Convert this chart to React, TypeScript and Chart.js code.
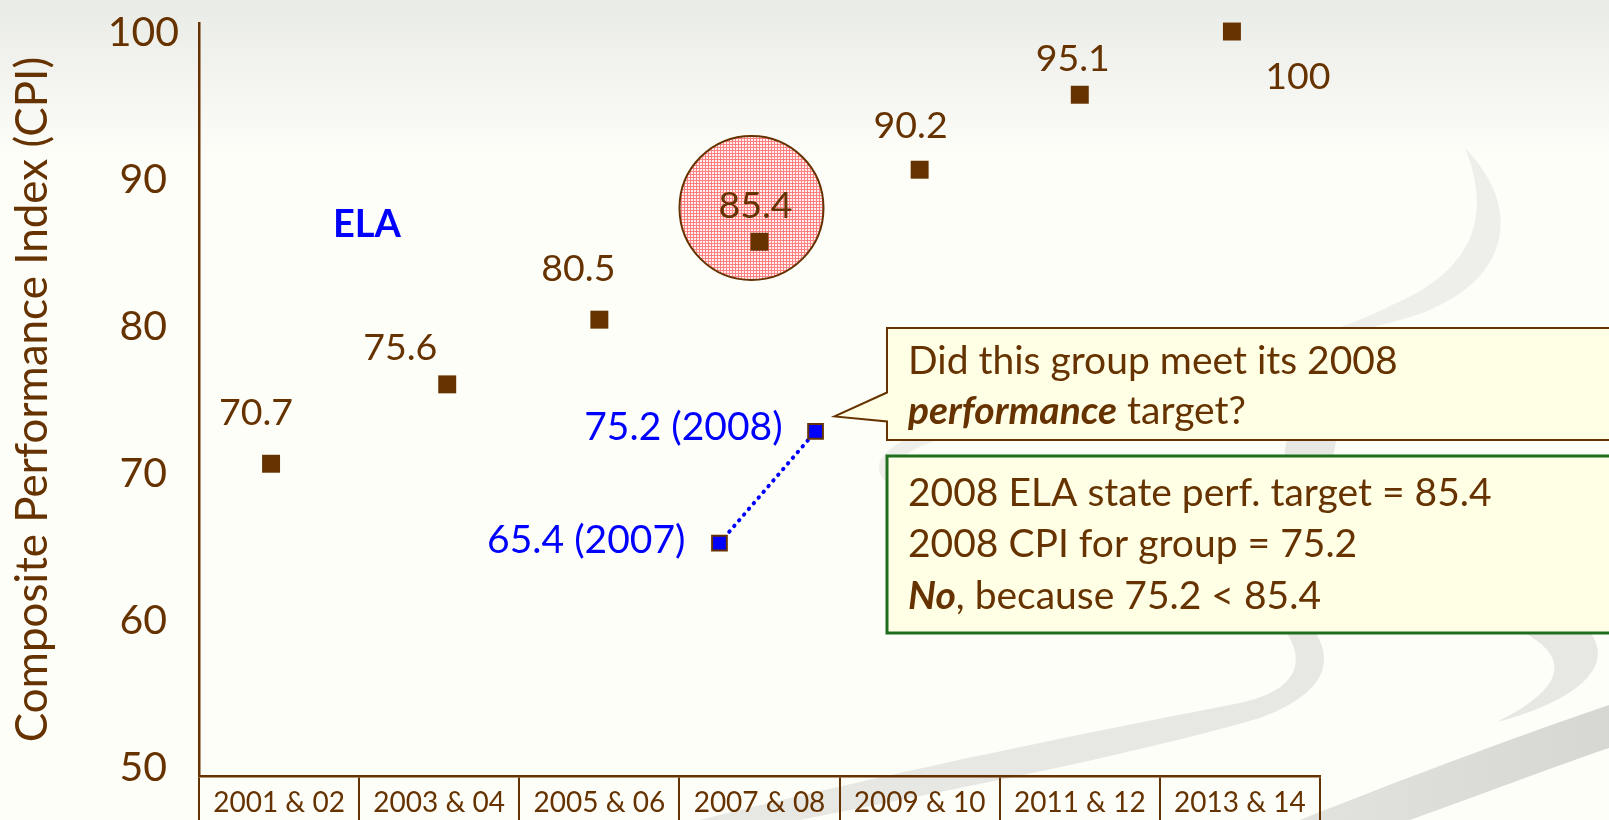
import React, { useEffect, useRef } from 'react';
import { Chart, registerables } from 'chart.js';

Chart.register(...registerables);

// ---------- data ----------
const categories = ['2001 & 02', '2003 & 04', '2005 & 06', '2007 & 08', '2009 & 10', '2011 & 12', '2013 & 14'];
const yTickValues = [50, 60, 70, 80, 90, 100];
// state performance targets (plotted positions)
const cpiX = [-0.05, 1.05, 2, 3, 4, 5, 5.95];
const cpiValues = [70.7, 76.1, 80.5, 85.8, 90.7, 95.8, 100.1];
const cpiLabels = ['70.7', '75.6', '80.5', '85.4', '90.2', '95.1', '100'];
// the group's CPI
const groupX = [2.75, 3.35];
const groupValues = [65.3, 72.9];
const groupLabels = ['65.4 (2007)', '75.2 (2008)'];
// highlighted 2008 target
const targetX = [2.95];
const targetValues = [88.1];

const subjectLabel = 'ELA';
const yTitle = 'Composite Performance Index (CPI)';

type Seg = { t: string; bi?: boolean };
const questionLines: Seg[][] = [
  [{ t: 'Did this group meet its 2008' }],
  [{ t: 'performance', bi: true }, { t: ' target?' }],
];
const answerLines: Seg[][] = [
  [{ t: '2008 ELA state perf. target = 85.4' }],
  [{ t: '2008 CPI for group = 75.2' }],
  [{ t: 'No', bi: true }, { t: ', because 75.2 < 85.4' }],
];

// ---------- styles ----------
const BROWN = '#663300';
const BLUE = '#0000ff';
const GREEN = '#1e6e1e';
const CREAM = '#ffffe6';
const FONT = 'Lato, "Open Sans", sans-serif';
const W = 1609;
const H = 820;

const cpiLabelOffsets = [
  [-15, -51], [-47, -36], [-21, -51], [-4, -36], [-9, -44], [-7, -36], [66, 45],
];
const groupLabelOffsets = [[-34, -3], [-33, -4]];

const backgroundPlugin = {
  id: 'bg',
  beforeDraw(chart: any) {
    const ctx = chart.ctx as CanvasRenderingContext2D;
    ctx.save();
    const g = ctx.createLinearGradient(0, 0, 0, 160);
    g.addColorStop(0, '#e9ebe6');
    g.addColorStop(1, '#fefef9');
    ctx.fillStyle = g;
    ctx.fillRect(0, 0, W, H);

    // decorative swooshes
    ctx.fillStyle = '#eeeeea';
    ctx.beginPath();
    ctx.moveTo(1465, 148);
    ctx.bezierCurveTo(1530, 215, 1505, 292, 1400, 320);
    ctx.bezierCurveTo(1300, 348, 1100, 380, 930, 430);
    ctx.bezierCurveTo(885, 445, 870, 462, 884, 480);
    ctx.lineTo(900, 480);
    ctx.bezierCurveTo(890, 462, 905, 450, 945, 438);
    ctx.bezierCurveTo(1110, 392, 1300, 352, 1392, 305);
    ctx.bezierCurveTo(1480, 268, 1490, 210, 1465, 148);
    ctx.closePath();
    ctx.fill();

    ctx.fillStyle = '#e7e7e3';
    ctx.beginPath();
    ctx.moveTo(1288, 432);
    ctx.lineTo(1338, 432);
    ctx.bezierCurveTo(1322, 510, 1312, 580, 1315, 632);
    ctx.bezierCurveTo(1330, 655, 1335, 690, 1260, 718);
    ctx.bezierCurveTo(1120, 758, 950, 790, 800, 820);
    ctx.lineTo(700, 820);
    ctx.bezierCurveTo(900, 770, 1100, 730, 1240, 703);
    ctx.bezierCurveTo(1300, 690, 1305, 660, 1286, 632);
    ctx.bezierCurveTo(1272, 570, 1276, 500, 1288, 432);
    ctx.closePath();
    ctx.fill();

    ctx.beginPath();
    ctx.moveTo(1523, 632);
    ctx.lineTo(1590, 632);
    ctx.bezierCurveTo(1615, 665, 1580, 700, 1497, 722);
    ctx.bezierCurveTo(1560, 690, 1575, 660, 1523, 632);
    ctx.closePath();
    ctx.fill();

    const g2 = ctx.createLinearGradient(1609, 0, 1150, 0);
    g2.addColorStop(0, '#d6d6d2');
    g2.addColorStop(1, '#e8e8e4');
    ctx.fillStyle = g2;
    ctx.beginPath();
    ctx.moveTo(1609, 705);
    ctx.bezierCurveTo(1530, 732, 1420, 772, 1300, 820);
    ctx.lineTo(1410, 820);
    ctx.bezierCurveTo(1480, 795, 1550, 768, 1609, 748);
    ctx.closePath();
    ctx.fill();
    ctx.restore();
  },
};

function drawSegs(ctx: CanvasRenderingContext2D, segs: Seg[], x: number, y: number, size: number) {
  let cx = x;
  for (const s of segs) {
    ctx.font = `${s.bi ? 'italic bold ' : ''}${size}px ${FONT}`;
    ctx.fillText(s.t, cx, y);
    cx += ctx.measureText(s.t).width;
  }
}

const annotationPlugin = {
  id: 'annot',
  afterDatasetsDraw(chart: any) {
    const ctx = chart.ctx as CanvasRenderingContext2D;
    const xs = chart.scales.x;
    const ys = chart.scales.y;
    ctx.save();
    ctx.textBaseline = 'middle';
    ctx.textAlign = 'center';
    ctx.fillStyle = BROWN;
    ctx.font = `37.5px ${FONT}`;
    cpiLabels.forEach((t, i) => {
      const px = xs.getPixelForValue(cpiX[i]);
      const py = ys.getPixelForValue(cpiValues[i]);
      ctx.fillText(t, px + cpiLabelOffsets[i][0], py + cpiLabelOffsets[i][1]);
    });
    ctx.textAlign = 'right';
    ctx.fillStyle = BLUE;
    ctx.font = `39px ${FONT}`;
    groupLabels.forEach((t, i) => {
      const px = xs.getPixelForValue(groupX[i]);
      const py = ys.getPixelForValue(groupValues[i]);
      ctx.fillText(t, px + groupLabelOffsets[i][0], py + groupLabelOffsets[i][1]);
    });
    ctx.textAlign = 'center';
    ctx.font = `bold 38px ${FONT}`;
    ctx.fillText(subjectLabel, 367, 225);
    ctx.restore();
  },
  afterDraw(chart: any) {
    const ctx = chart.ctx as CanvasRenderingContext2D;
    const xs = chart.scales.x;
    const ys = chart.scales.y;
    const tipX = xs.getPixelForValue(groupX[1]) + 19;
    const tipY = ys.getPixelForValue(groupValues[1]) - 15;
    ctx.save();
    // question callout
    ctx.beginPath();
    ctx.moveTo(887, 328);
    ctx.lineTo(W + 10, 328);
    ctx.lineTo(W + 10, 440);
    ctx.lineTo(887, 440);
    ctx.lineTo(887, 421.5);
    ctx.lineTo(tipX, tipY);
    ctx.lineTo(887, 392.5);
    ctx.closePath();
    ctx.fillStyle = CREAM;
    ctx.fill();
    ctx.lineWidth = 2;
    ctx.strokeStyle = BROWN;
    ctx.stroke();
    // answer box
    ctx.beginPath();
    ctx.rect(887, 456, W + 10 - 887, 633 - 456);
    ctx.fillStyle = CREAM;
    ctx.fill();
    ctx.lineWidth = 3;
    ctx.strokeStyle = GREEN;
    ctx.stroke();

    ctx.fillStyle = BROWN;
    ctx.textBaseline = 'alphabetic';
    ctx.textAlign = 'left';
    const qy = [374, 424];
    questionLines.forEach((l, i) => drawSegs(ctx, l, 908, qy[i], 39));
    const ay = [506, 557, 609];
    answerLines.forEach((l, i) => drawSegs(ctx, l, 908, ay[i], 39));
    ctx.restore();
  },
};

export default function App() {
  const ref = useRef<HTMLCanvasElement | null>(null);
  useEffect(() => {
    const canvas = ref.current;
    if (!canvas) return;
    const ctx = canvas.getContext('2d')!;
    const pc = document.createElement('canvas');
    pc.width = 3;
    pc.height = 3;
    const p = pc.getContext('2d')!;
    p.fillStyle = '#fff0f0';
    p.fillRect(0, 0, 3, 3);
    p.fillStyle = '#ff8080';
    p.fillRect(0, 0, 3, 1);
    p.fillRect(0, 0, 1, 3);
    const pattern = ctx.createPattern(pc, 'repeat');

    const chart = new Chart(canvas, {
      type: 'scatter',
      data: {
        datasets: [
          {
            type: 'bubble',
            label: 'target',
            data: targetX.map((x, i) => ({ x, y: targetValues[i], r: 72 })),
            backgroundColor: pattern as any,
            borderColor: BROWN,
            borderWidth: 2,
            order: 10,
            clip: false,
          } as any,
          {
            label: 'Group CPI',
            data: groupX.map((x, i) => ({ x, y: groupValues[i] })),
            showLine: true,
            borderColor: BLUE,
            borderWidth: 4,
            borderDash: [0.5, 7],
            borderCapStyle: 'round',
            pointStyle: 'rect',
            pointRadius: 10.4,
            pointBackgroundColor: BLUE,
            pointBorderColor: BROWN,
            pointBorderWidth: 2,
            order: 1,
          } as any,
          {
            label: 'State target',
            data: cpiX.map((x, i) => ({ x, y: cpiValues[i] })),
            pointStyle: 'rect',
            pointRadius: 12.7,
            pointBackgroundColor: BROWN,
            pointBorderWidth: 0,
            order: 0,
            clip: false,
          } as any,
        ],
      },
      options: {
        animation: false,
        responsive: false,
        devicePixelRatio: 1,
        events: [],
        layout: { autoPadding: false, padding: { top: 23, left: 0, right: W - 1320, bottom: 0 } },
        plugins: { legend: { display: false }, tooltip: { enabled: false } },
        scales: {
          x: { type: 'linear', min: -0.5, max: 6.5, display: false },
          xc: {
            type: 'category',
            labels: categories,
            position: 'bottom',
            offset: true,
            grid: { offset: true, drawOnChartArea: false, drawTicks: true, tickLength: 44, color: BROWN, lineWidth: 2 },
            border: { display: true, color: BROWN, width: 2.5 },
            ticks: { color: BROWN, font: { family: FONT, size: 28 }, padding: -34, maxRotation: 0, autoSkip: false },
            afterFit: (s: any) => {
              s.height = 44;
              s.paddingLeft = 0;
              s.paddingRight = 0;
            },
          } as any,
          y: {
            type: 'linear',
            min: 49.46,
            max: 100.68,
            afterBuildTicks: (s: any) => {
              s.ticks = yTickValues.map((v) => ({ value: v }));
            },
            grid: { display: false, drawTicks: false },
            border: { display: true, color: BROWN, width: 2.5 },
            ticks: { color: BROWN, font: { family: FONT, size: 41 }, padding: 20, crossAlign: 'center' },
            title: {
              display: true,
              text: yTitle,
              color: BROWN,
              font: { family: FONT, size: 44 },
              padding: { top: 6, bottom: 0 },
            },
            afterFit: (s: any) => {
              s.width = 199;
              s.paddingTop = 0;
              s.paddingBottom = 0;
            },
          } as any,
        },
      },
      plugins: [backgroundPlugin, annotationPlugin],
    });
    return () => chart.destroy();
  }, []);
  return (
    <div style={{ position: 'fixed', left: 0, top: 0, width: W, height: H, overflow: 'hidden' }}>
      <canvas ref={ref} width={W} height={H} style={{ width: W, height: H, display: 'block' }} />
    </div>
  );
}
